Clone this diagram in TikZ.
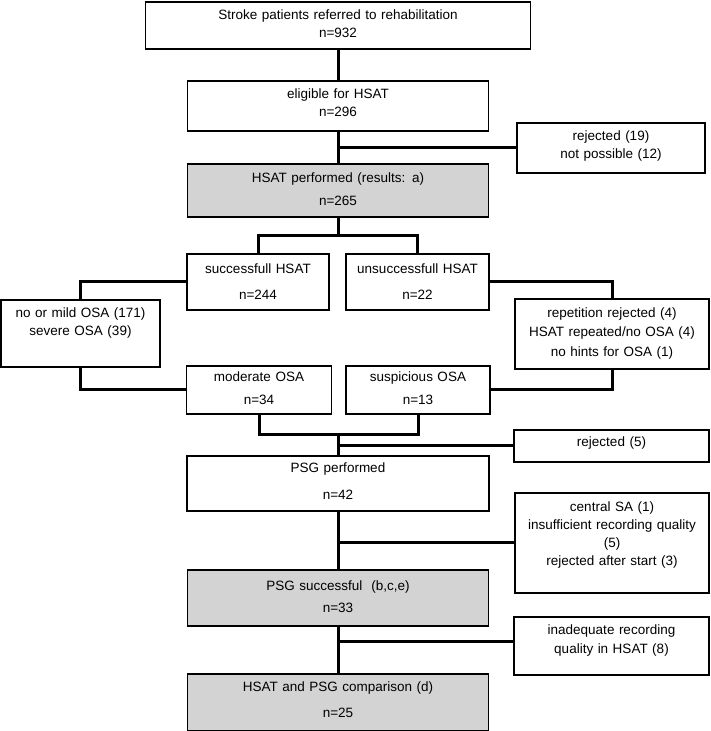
\documentclass[tikz,border=0pt]{standalone}
\usepackage{fontspec}
\setmainfont{Liberation Sans}
\usepackage{tikz}
\usetikzlibrary{calc}
\usetikzlibrary{positioning}

\definecolor{boxgray}{RGB}{211,211,211}

\begin{document}
\begin{tikzpicture}[x=1pt,y=-1pt,
    box/.style={draw,line width=1.6pt,inner sep=0pt,align=center,anchor=north,
      font=\fontsize{13.5}{18}\selectfont},
    shaded/.style={box,fill=boxgray},
    link/.style={line width=3pt}]
  \useasboundingbox (0,0) rectangle (710,731);

  % main column
  \node[box,minimum width=385pt,text width=375pt,text height=17.8pt,text depth=29.2pt] (stroke) at (338,1)
    {Stroke patients referred to rehabilitation\\n=932};
  \node[box,minimum width=301pt,text width=290pt,text height=17.5pt,text depth=32.5pt] (elig) at (338,80)
    {eligible for HSAT\\n=296};
  \node[shaded,minimum width=301pt,text width=290pt,text height=18.5pt,text depth=34.5pt] (hsat) at (338,163)
    {HSAT performed (results: a)\\[5pt]n=265};

  \node[box,minimum width=142pt,text width=136pt,text height=19.5pt,text depth=36.5pt] (succ) at (258,253)
    {successfull HSAT\\[8pt]n=244};
  \node[box,minimum width=143pt,text width=137pt,text height=19.5pt,text depth=36.5pt] (unsucc) at (417.5,253)
    {unsuccessfull HSAT\\[8pt]n=22};

  \node[box,minimum width=159pt,text width=153pt,text height=18pt,text depth=49pt] (mildsev) at (80.5,299)
    {no or mild OSA (171)\\severe OSA (39)};
  \node[box,minimum width=194pt,text width=188pt,text height=18.5pt,text depth=51.5pt] (norepeat) at (612,298)
    {repetition rejected (4)\\[1.5pt]HSAT repeated/no OSA (4)\\[1.5pt]no hints for OSA (1)};

  \node[box,minimum width=145pt,text width=139pt,text height=16pt,text depth=32pt] (moder) at (259,365)
    {moderate OSA\\[5pt]n=34};
  \node[box,minimum width=144pt,text width=138pt,text height=16pt,text depth=32pt] (susp) at (418,365)
    {suspicious OSA\\[5pt]n=13};

  \node[box,minimum width=302pt,text width=290pt,text height=16.5pt,text depth=38.5pt] (psgdone) at (338,455)
    {PSG performed\\[9pt]n=42};
  \node[shaded,minimum width=301pt,text width=290pt,text height=21pt,text depth=35pt] (psgok) at (338,569)
    {PSG successful~ (b,c,e)\\[4pt]n=33};
  \node[shaded,minimum width=301pt,text width=290pt,text height=18pt,text depth=39pt] (compare) at (338,673)
    {HSAT and PSG comparison (d)\\[7.5pt]n=25};

  % drop-outs on the right
  \node[box,minimum width=188pt,text width=182pt,text height=17.5pt,text depth=32.5pt] (rejhsat) at (611,122)
    {rejected (19)\\not possible (12)};
  \node[box,minimum width=195pt,text width=188pt,text height=17pt,text depth=15pt] (rejpsg) at (611.5,429)
    {rejected (5)};
  \node[box,minimum width=194pt,text width=188pt,text height=18.5pt,text depth=81.5pt] (psgfail) at (612,492)
    {central SA (1)\\insufficient recording quality\\(5)\\rejected after start (3)};
  \node[box,minimum width=195pt,text width=188pt,text height=18pt,text depth=40pt] (badhsat) at (611.5,616)
    {inadequate recording\\[1pt]quality in HSAT (8)};

  % connectors
  \draw[link] (stroke) -- (elig);
  \draw[link] (elig) -- (hsat);
  \draw[link] (rejhsat.west) -- (rejhsat.west -| hsat.north);
  \draw[link] (hsat.south) -- ++(0,18) -| (succ.north);
  \draw[link] (hsat.south) -- ++(0,18) -| (unsucc.north);
  \draw[link] (succ.west) -| (mildsev.north);
  \draw[link] (unsucc.east) -| (norepeat.north);
  \draw[link] (mildsev.south) |- (moder.west);
  \draw[link] (norepeat.south) |- (susp.east);
  \coordinate (join) at ($(moder.south)+(0,20)$);
  \draw[link] (moder.south) -- (join) -| (susp.south);
  \draw[link] (join -| psgdone.north) -- (psgdone.north);
  \draw[link] (rejpsg.west) -- (rejpsg.west -| psgdone.north);
  \draw[link] (psgdone) -- (psgok);
  \draw[link] (psgfail.west) -- (psgfail.west -| psgdone.south);
  \draw[link] (psgok) -- (compare);
  \draw[link] ([yshift=4pt]badhsat.west) -- ([yshift=4pt]badhsat.west -| psgok.south);
\end{tikzpicture}
\end{document}
